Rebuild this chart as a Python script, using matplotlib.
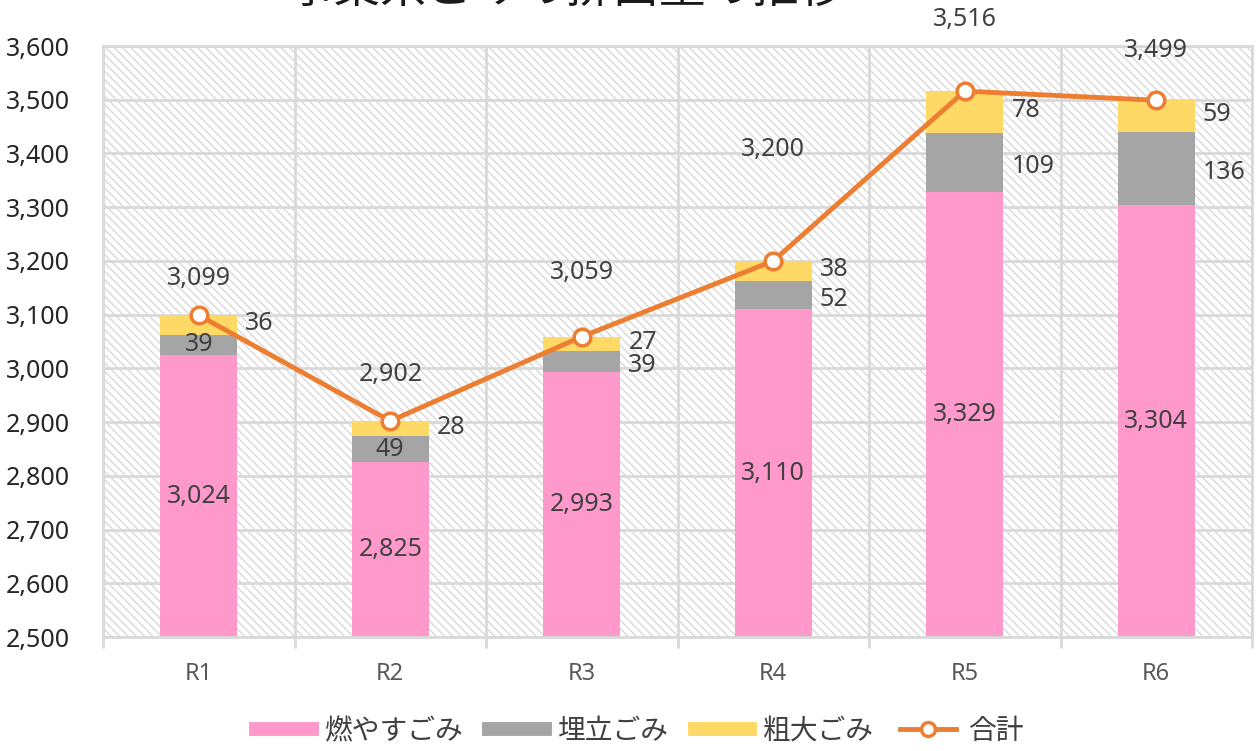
import numpy as np
import matplotlib.pyplot as plt
from matplotlib.patches import Rectangle
from matplotlib.lines import Line2D

plt.rcParams['font.family'] = ['Noto Sans', 'Noto Sans CJK JP', 'DejaVu Sans']
plt.rcParams['hatch.linewidth'] = 1.0

# data (thousand t)
years = ["R1", "R2", "R3", "R4", "R5", "R6"]
moyasu = [3024, 2825, 2993, 3110, 3329, 3304]
umetate = [39, 49, 39, 52, 109, 136]
sodai = [36, 28, 27, 38, 78, 59]
total = [3099, 2902, 3059, 3200, 3516, 3499]

# label placement (style only)
total_off = [37, 47, 64, 111, 72, 50]
umetate_inside = [True, True, False, False, False, False]

c_pink = "#FF99CC"
c_gray = "#A5A5A5"
c_yel = "#FFD966"
c_org = "#ED7D31"
txt = "#404040"

fig = plt.figure(figsize=(12.59, 7.51), dpi=100)
ax = fig.add_axes([103/1259, 1-637/751, (1252-103)/1259, (637-46)/751])

x = np.arange(len(years))
w = 0.40
moy = np.array(moyasu)
ume = np.array(umetate)
sod = np.array(sodai)

ax.add_patch(Rectangle((0, 0), 1, 1, transform=ax.transAxes, facecolor="white",
                       edgecolor="#d9d9d9", hatch="\\\\\\\\", lw=0, zorder=0.1))

b1 = ax.bar(x, moy, w, color=c_pink, zorder=2)
b2 = ax.bar(x, ume, w, bottom=moy, color=c_gray, zorder=2)
b3 = ax.bar(x, sod, w, bottom=moy+ume, color=c_yel, zorder=2)
ax.plot(x, total, color=c_org, lw=3.5, marker="o", ms=12, mfc="white", mec=c_org, mew=2.5, zorder=4)

ymin, ymax = 2500, 3600
fs = 18
for i in range(len(years)):
    ax.text(x[i], (ymin + moy[i]) / 2, f"{moy[i]:,}", ha="center", va="center", fontsize=fs, color=txt, zorder=5)
    if umetate_inside[i]:
        ax.text(x[i], moy[i] + ume[i] / 2, f"{ume[i]}", ha="center", va="center", fontsize=fs, color=txt, zorder=5)
    else:
        ax.annotate(f"{ume[i]}", (x[i] + w / 2, moy[i] + ume[i] / 2), xytext=(6, -3), textcoords="offset points",
                    ha="left", va="center", fontsize=fs, color=txt, zorder=5)
    ax.annotate(f"{sod[i]}", (x[i] + w / 2, moy[i] + ume[i] + sod[i] / 2), xytext=(6, 1), textcoords="offset points",
                ha="left", va="center", fontsize=fs, color=txt, zorder=5)
    ax.annotate(f"{total[i]:,}", (x[i], total[i]), xytext=(0, total_off[i] * 0.72), textcoords="offset points",
                ha="center", va="center", fontsize=fs, color=txt, zorder=5, annotation_clip=False)

ax.set_xlim(-0.5, len(years) - 0.5)
ax.set_ylim(ymin, ymax)
ax.set_yticks(np.arange(ymin, ymax + 1, 100))
ax.set_yticklabels([f"{v:,}" for v in range(ymin, ymax + 1, 100)], fontsize=18, color="#262626")
ax.set_xticks(x)
ax.set_xticklabels(years, fontsize=17, color="#595959")
ax.set_xticks(np.arange(-0.5, len(years), 1), minor=True)
ax.tick_params(axis="x", which="major", length=0, pad=18)
ax.tick_params(axis="x", which="minor", length=8, width=2, color="#d9d9d9")
ax.tick_params(axis="y", length=0, pad=24)
ax.set_axisbelow(True)
ax.grid(axis="y", color="#d9d9d9", lw=2)
ax.grid(axis="x", which="minor", color="#d9d9d9", lw=2)
for s in ax.spines.values():
    s.set_color("#d9d9d9")
    s.set_linewidth(2)

handles = [Line2D([], [], color=c_pink, lw=10),
           Line2D([], [], color=c_gray, lw=10),
           Line2D([], [], color=c_yel, lw=10),
           Line2D([], [], color=c_org, lw=3.5, marker="o", ms=10, mfc="white", mew=2.5)]
fig.legend(handles, ["燃やすごみ", "埋立ごみ", "粗大ごみ", "合計"], loc="center", bbox_to_anchor=(640/1259, 1-732/751),
           ncol=4, frameon=False, fontsize=20, handlelength=2.0, handletextpad=0.45, columnspacing=0.95,
           labelcolor="#404040")

fig.text(567/1259, 1 + 11/751, "事業系ごみの排出量の推移", ha="center", va="center", fontsize=33.5, color="#1a1a1a")

fig.savefig("out.png", dpi=100)
